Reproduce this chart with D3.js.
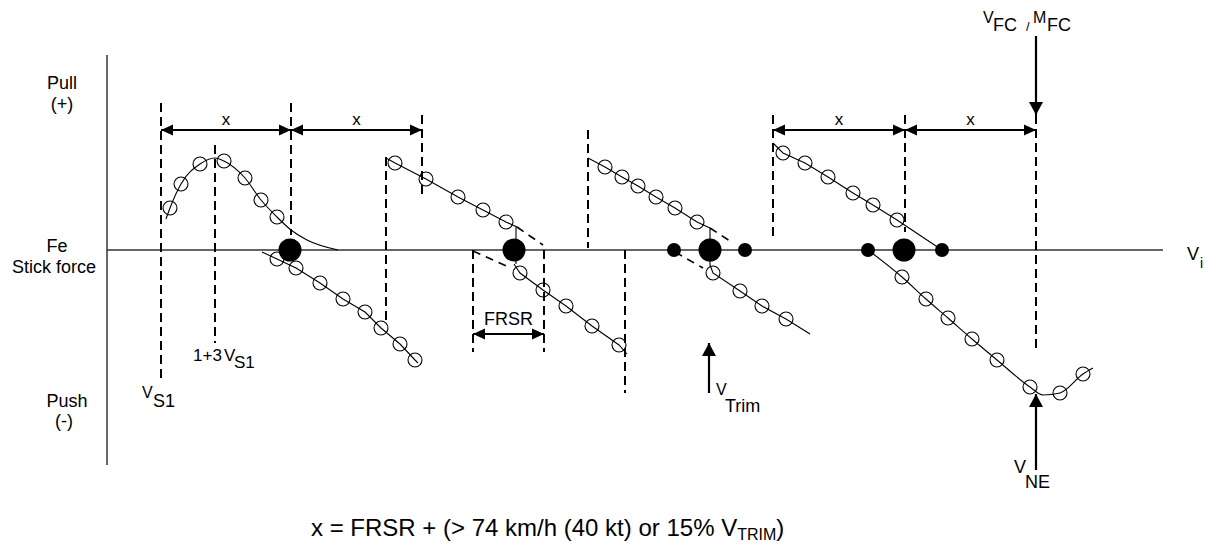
<!DOCTYPE html>
<html>
<head>
<meta charset="utf-8">
<script src="https://cdn.jsdelivr.net/npm/d3@7"></script>
<style>
  body { margin: 0; background: #fff; }
  svg text { font-family: "Liberation Sans", Arial, sans-serif; fill: #000; }
</style>
</head>
<body>
<svg id="chart" width="1207" height="553"></svg>
<script>
// speed along Vi (0 = force axis) and stick force Fe (+ pull / - push)
var stallCurve = [[59,31],[63,42],[74,66],[93,86],[108,92],[117,89],[138,72],[154,50],[170,33],[184,20],[200,10],[231,0]]
var stallCircles = [[63,42],[74,66],[93,86],[117,89],[138,72],[154,50],[170,33]]

var line1Low = [[155,-2],[170,-9],[189,-18],[213,-33],[236,-49],[258,-62],[274,-78],[293,-94],[308,-110],[311,-113]]
var circ1Low = [[170,-9],[189,-18],[213,-33],[236,-49],[258,-62],[274,-78],[293,-94],[308,-110]]

var line2Up = [[279,92],[288,87],[319,71],[351,53],[376,40],[399,28],[410,23]]
var circ2Up = [[288,87],[319,71],[351,53],[376,40],[399,28]]
var line2Low = [[407,-14],[413,-23],[436,-40],[459,-56],[485,-76],[512,-95],[520,-104]]
var circ2Low = [[413,-23],[436,-40],[459,-56],[485,-76],[512,-95]]

var line3Up = [[481,92],[498,83],[515,73],[531,64],[549,53],[568,42],[590,28],[603,22]]
var circ3Up = [[498,83],[515,73],[531,64],[549,53],[568,42],[590,28]]
var line3Low = [[603,-15],[606,-23],[633,-41],[655,-56],[679,-69],[703,-84]]
var circ3Low = [[606,-23],[633,-41],[655,-56],[679,-69]]

var line4Up = [[666,107],[676,97],[698,87],[721,73],[746,57],[766,45],[790,30],[835,0]]
var circ4Up = [[676,97],[698,87],[721,73],[746,57],[766,45],[790,30]]
var line4Low = [[761,0],[795,-27],[819,-49],[841,-68],[865,-89],[890,-110],[923,-137],[936,-145],[953,-143],[976,-124],[986,-118]]
var circ4Low = [[795,-27],[819,-49],[841,-68],[865,-89],[890,-110],[923,-137],[953,-143],[976,-124]]

// trim-point transitions (solid drop + dashed extrapolations)
var drops = [[[409,23],[409,-14]], [[603,22],[603,-15]]]
var dashedSlants = [[[410,23],[436,5]], [[366,-1],[404,-18]], [[603,22],[626,7]], [[568,-2],[596,-18]]]

var bigDots = [183, 407, 603, 797]
var smallDots = [567, 638, 761, 835]

// dashed speed markers: [speed, top force, bottom force]
var markers = [[54,147,-130],[108,105,-93],[184,147,15],[279,93,-75],[315,135,52],[366,0,-102],[437,0,-102],[481,120,2],[518,0,-143],[666,135,10],[798,135,18],[929,135,-102]]

var spans = [[54,184],[184,315],[666,798],[798,929]]
var spanForce = 120
var frsrSpan = [366,437]
var frsrForce = -84

// pointer arrows: [speed, from force, to force]
var pointers = [[929,214,135],[602,-143,-93],[929,-220,-144]]

var svg = d3.select('#chart')
var x = d3.scaleLinear().domain([0, 1056]).range([107, 1163])
var y = d3.scaleLinear().domain([-215, 195]).range([465, 55])

var defs = svg.append('defs')
defs.append('marker').attr('id', 'dim')
    .attr('markerUnits', 'userSpaceOnUse')
    .attr('markerWidth', 12).attr('markerHeight', 12)
    .attr('refX', 12).attr('refY', 6)
    .attr('orient', 'auto-start-reverse')
  .append('path').attr('d', 'M0,0.5L12,6L0,11.5z').attr('fill', '#000')
defs.append('marker').attr('id', 'ptr')
    .attr('markerUnits', 'userSpaceOnUse')
    .attr('markerWidth', 14).attr('markerHeight', 14)
    .attr('refX', 13).attr('refY', 7)
    .attr('orient', 'auto')
  .append('path').attr('d', 'M0,0L13,7L0,14z').attr('fill', '#000')

// axes
svg.append('line')
    .attr('x1', x(0)).attr('x2', x(0)).attr('y1', y(195)).attr('y2', y(-215))
    .attr('stroke', '#333').attr('stroke-width', 1.5)
svg.append('line')
    .attr('x1', x(0)).attr('x2', x(1056)).attr('y1', y(0)).attr('y2', y(0))
    .attr('stroke', '#333').attr('stroke-width', 1.5)

// dashed verticals
svg.append('g').selectAll('line').data(markers).join('line')
    .attr('x1', d => x(d[0])).attr('x2', d => x(d[0]))
    .attr('y1', d => y(d[1])).attr('y2', d => y(d[2]))
    .attr('stroke', '#000').attr('stroke-width', 2)
    .attr('stroke-dasharray', '9,5')

var line = d3.line().x(d => x(d[0])).y(d => y(d[1]))
var smooth = d3.line().x(d => x(d[0])).y(d => y(d[1])).curve(d3.curveMonotoneX)

var g = svg.append('g').attr('fill', 'none').attr('stroke', '#000').attr('stroke-width', 1.1)
g.append('path').attr('d', smooth(stallCurve))
;[line1Low, line2Up, line2Low, line3Up, line3Low, line4Up].forEach(function(l) {
    g.append('path').attr('d', line(l))
})
g.append('path').attr('d', smooth(line4Low))
drops.forEach(function(l) { g.append('path').attr('d', line(l)) })

svg.append('g').selectAll('path').data(dashedSlants).join('path')
    .attr('d', line).attr('fill', 'none').attr('stroke', '#000')
    .attr('stroke-width', 1.6).attr('stroke-dasharray', '8,6')

var circles = [].concat(stallCircles, circ1Low, circ2Up, circ2Low, circ3Up, circ3Low, circ4Up, circ4Low)
svg.append('g').selectAll('circle').data(circles).join('circle')
    .attr('cx', d => x(d[0])).attr('cy', d => y(d[1])).attr('r', 7)
    .attr('fill', 'none').attr('stroke', '#000').attr('stroke-width', 1.1)

svg.append('g').selectAll('circle').data(bigDots).join('circle')
    .attr('cx', d => x(d)).attr('cy', y(0)).attr('r', 11.5).attr('fill', '#000')
svg.append('g').selectAll('circle').data(smallDots).join('circle')
    .attr('cx', d => x(d)).attr('cy', y(0)).attr('r', 7).attr('fill', '#000')

// x spans
svg.append('g').selectAll('line').data(spans).join('line')
    .attr('x1', d => x(d[0])).attr('x2', d => x(d[1]))
    .attr('y1', y(spanForce)).attr('y2', y(spanForce))
    .attr('stroke', '#000').attr('stroke-width', 2)
    .attr('marker-start', 'url(#dim)').attr('marker-end', 'url(#dim)')
svg.append('g').selectAll('text').data(spans).join('text')
    .attr('x', d => x((d[0] + d[1]) / 2)).attr('y', y(125))
    .attr('text-anchor', 'middle').attr('font-size', 17).text('x')

svg.append('line')
    .attr('x1', x(frsrSpan[0])).attr('x2', x(frsrSpan[1]))
    .attr('y1', y(frsrForce)).attr('y2', y(frsrForce))
    .attr('stroke', '#000').attr('stroke-width', 2)
    .attr('marker-start', 'url(#dim)').attr('marker-end', 'url(#dim)')
svg.append('text').attr('x', x((frsrSpan[0] + frsrSpan[1]) / 2)).attr('y', y(-75))
    .attr('text-anchor', 'middle').attr('font-size', 18).text('FRSR')

svg.append('g').selectAll('line').data(pointers).join('line')
    .attr('x1', d => x(d[0])).attr('x2', d => x(d[0]))
    .attr('y1', d => y(d[1])).attr('y2', d => y(d[2]))
    .attr('stroke', '#000').attr('stroke-width', 2.2)
    .attr('marker-end', 'url(#ptr)')

// labels
function label(px, py, size, str, anchor) {
    return svg.append('text').attr('x', px).attr('y', py).attr('font-size', size)
        .attr('text-anchor', anchor || 'start').text(str)
}
label(62, 89, 18, 'Pull', 'middle')
label(62, 110, 18, '(+)', 'middle')
label(57, 252, 18, 'Fe', 'middle')
label(54, 273, 18, 'Stick force', 'middle')
label(67, 407, 18, 'Push', 'middle')
label(64, 427, 18, '(-)', 'middle')

label(x(35), y(-148), 16, 'V')
label(x(46), y(-157), 18, 'S1')

label(x(86), y(-111), 17, '1+3')
label(x(117), y(-111), 17, 'V')
label(x(127), y(-118), 17, 'S1')

label(x(609), y(-145), 16, 'V')
label(x(618), y(-162), 18, 'Trim')

label(x(907), y(-223), 18, 'V')
label(x(918), y(-238), 18, 'NE')

label(x(876), y(227), 16, 'V')
label(x(886), y(219), 18, 'FC')
label(x(919), y(219), 13, '/')
label(x(926), y(227), 16, 'M')
label(x(940), y(219), 18, 'FC')

label(x(1080), y(-10), 18, 'V')
label(x(1093), y(-18), 14, 'i')

var cap = svg.append('text').attr('x', 311).attr('y', 536).attr('font-size', 24)
cap.append('tspan').text('x = FRSR + (> 74 km/h (40 kt) or 15% V')
cap.append('tspan').attr('font-size', 16).attr('dy', 4).text('TRIM')
cap.append('tspan').attr('dy', -4).text(')')
</script>
</body>
</html>
